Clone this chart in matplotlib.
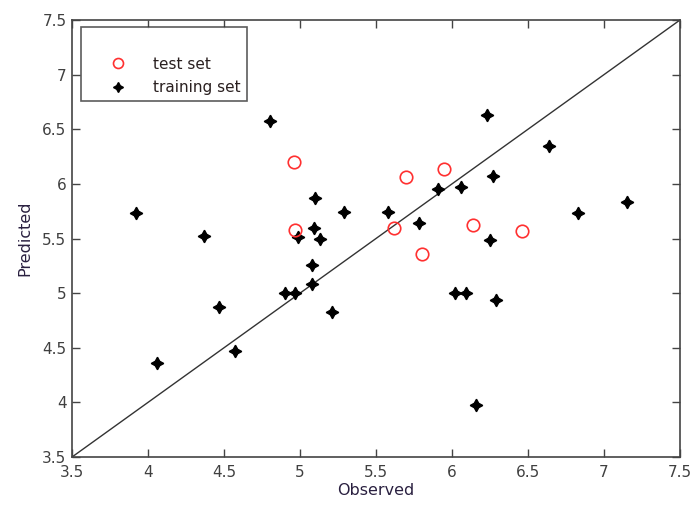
import matplotlib.pyplot as plt
import numpy as np

plt.rcParams['font.family'] = ['DejaVu Sans']

# test set (observed, predicted)
test_obs = [4.96, 4.97, 5.62, 5.70, 5.80, 5.95, 6.14, 6.46]
test_pred = [6.20, 5.58, 5.60, 6.06, 5.36, 6.14, 5.62, 5.57]

# training set (observed, predicted)
train_obs = [3.92, 4.06, 4.37, 4.47, 4.57, 4.80, 4.90, 4.97, 4.99, 5.08,
             5.08, 5.09, 5.10, 5.13, 5.21, 5.29, 5.58, 5.78, 5.91, 6.02,
             6.06, 6.09, 6.16, 6.23, 6.25, 6.27, 6.29, 6.64, 6.83, 7.15]
train_pred = [5.73, 4.36, 5.52, 4.87, 4.47, 6.58, 5.00, 5.00, 5.51, 5.26,
              5.08, 5.60, 5.87, 5.50, 4.83, 5.74, 5.74, 5.64, 5.95, 5.00,
              5.97, 5.00, 3.98, 6.63, 5.49, 6.07, 4.94, 6.35, 5.73, 5.83]

ticks = [3.5, 4, 4.5, 5, 5.5, 6, 6.5, 7, 7.5]
tick_labels = ['3.5', '4', '4.5', '5', '5.5', '6', '6.5', '7', '7.5']

fig = plt.figure(figsize=(6.95, 5.05), dpi=100)
ax = fig.add_axes([0.1036, 0.095, 0.8748, 0.8654])

ax.plot([3.5, 7.5], [3.5, 7.5], color='#333333', lw=1.0, zorder=1)
ax.plot(test_obs, test_pred, ls='none', marker='o', ms=9, mfc='none',
        mec='#ff3030', mew=1.2, label='test set', zorder=3)
ax.plot(train_obs, train_pred, ls='none', marker=(4, 1, 0), ms=9,
        color='black', label='training set', zorder=2)

ax.set_xlim(3.5, 7.5)
ax.set_ylim(3.5, 7.5)
ax.set_xticks(ticks)
ax.set_xticklabels(tick_labels)
ax.set_yticks(ticks)
ax.set_yticklabels(tick_labels)

ax.tick_params(direction='in', length=6, width=1, top=True, right=True,
               labelsize=11, labelcolor='#404040', color='#444444')
ax.tick_params(axis='x', pad=6)
ax.tick_params(axis='y', pad=4)
for spine in ax.spines.values():
    spine.set_color('#444444')
    spine.set_linewidth(1.2)

ax.set_xlabel('Observed', fontsize=11.5, color='#2a2040', labelpad=2)
ax.set_ylabel('Predicted', fontsize=11.5, color='#2a2040', labelpad=7)

# matlab style legend: blank space above the entries
leg = ax.legend(loc='upper left', bbox_to_anchor=(0.0148, 0.984), fontsize=11,
                title=' ', title_fontsize=11, markerscale=0.8,
                frameon=True, fancybox=False, borderpad=0.4, handletextpad=0.33,
                handlelength=4.0, labelspacing=0.55, borderaxespad=0)
leg.get_frame().set_edgecolor('#333333')
leg.get_frame().set_linewidth(1.2)
for t in leg.get_texts():
    t.set_color('#2a2020')

fig.savefig('out.png', dpi=100)
